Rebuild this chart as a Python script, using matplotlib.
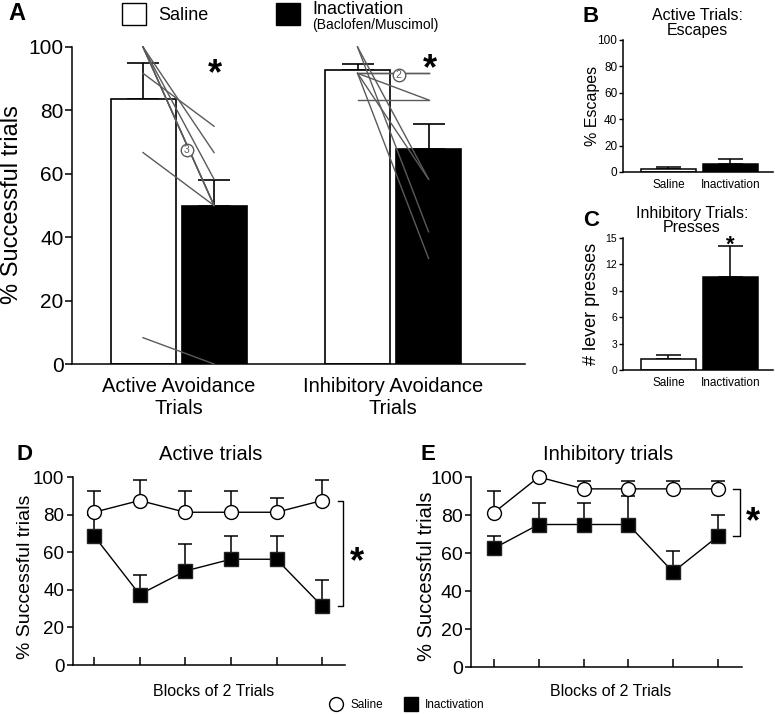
import matplotlib
matplotlib.use('Agg')
import matplotlib.pyplot as plt
import numpy as np
from matplotlib.lines import Line2D
from matplotlib.patches import Rectangle

plt.rcParams['font.family'] = ['Liberation Sans', 'DejaVu Sans']

# ---------------- data ----------------
groups_A = ['Active Avoidance\nTrials', 'Inhibitory Avoidance\nTrials']
saline_A = [83.5, 92.7]
saline_A_err = [11.4, 1.9]
inact_A = [50.0, 67.8]
inact_A_err = [8.0, 8.0]

active_saline_ind = [100, 100, 100, 100, 100, 91.7, 66.7, 8.3]
active_inact_ind = [66.7, 58.3, 50, 50, 50, 75, 50, 0]
inhib_saline_ind = [91.7, 91.7, 91.7, 83.3, 91.7, 100, 100, 91.7]
inhib_inact_ind = [91.7, 91.7, 83.3, 83.3, 58.3, 58.3, 41.7, 33.3]

groups_BC = ['Saline', 'Inactivation']
escapes = [2.0, 6.3]
escapes_err = [2.0, 3.2]
presses = [1.25, 10.6]
presses_err = [0.4, 3.5]

blocks = [1, 2, 3, 4, 5, 6]
D_saline = [81.25, 87.5, 81.25, 81.25, 81.25, 87.5]
D_saline_err = [11.5, 11.0, 11.5, 11.5, 7.5, 11.0]
D_inact = [68.75, 37.5, 50, 56.25, 56.25, 31.25]
D_inact_err = [11.0, 10.5, 14.5, 12.5, 12.5, 14.0]
E_saline = [81.25, 100, 93.75, 93.75, 93.75, 93.75]
E_saline_err = [11.5, 0, 4.3, 4.3, 4.3, 4.3]
E_inact = [62.5, 75, 75, 75, 50, 68.75]
E_inact_err = [6.2, 11.5, 11.5, 14.8, 11.2, 11.3]

# ---------------- figure ----------------
W, H = 775, 714
fig = plt.figure(figsize=(W / 100, H / 100), dpi=100)


def ax_px(left, top, right, bottom):
    return fig.add_axes([left / W, 1 - bottom / H, (right - left) / W, (bottom - top) / H])


def ftext(x, y, s, **kw):
    return fig.text(x / W, 1 - y / H, s, **kw)


def style(ax):
    for s in ['top', 'right']:
        ax.spines[s].set_visible(False)
    for s in ['left', 'bottom']:
        ax.spines[s].set_linewidth(1.1)


LINE_GRAY = '#5a5a5a'

# ---------------- Panel A ----------------
axA = ax_px(72, 47, 525, 364)
style(axA)
xg = np.arange(len(groups_A))
off = 0.1655
bw = 0.303
axA.bar(xg - off, saline_A, bw, color='white', edgecolor='black', lw=1.2, zorder=2)
axA.bar(xg + off, inact_A, bw, color='black', edgecolor='black', lw=1.2, zorder=2)
axA.errorbar(xg - off, saline_A, yerr=[np.zeros(2), saline_A_err], fmt='none',
             ecolor='black', elinewidth=1.2, capsize=11.5, capthick=1.2, zorder=1)
axA.errorbar(xg + off, inact_A, yerr=[np.zeros(2), inact_A_err], fmt='none',
             ecolor='black', elinewidth=1.2, capsize=11.5, capthick=1.2, zorder=1)
for s, i in zip(active_saline_ind, active_inact_ind):
    axA.plot([xg[0] - off, xg[0] + off], [s, i], color=LINE_GRAY, lw=1, zorder=3, clip_on=False)
for s, i in zip(inhib_saline_ind, inhib_inact_ind):
    axA.plot([xg[1] - off, xg[1] + off], [s, i], color=LINE_GRAY, lw=1, zorder=3, clip_on=False)
for (cx, cy, lab) in [(0.039, 67.5, '3'), (1.026, 91.2, '2')]:
    axA.plot(cx, cy, 'o', ms=9, mfc='white', mec=LINE_GRAY, mew=1, zorder=4)
    axA.text(cx, cy, lab, ha='center', va='center', fontsize=7.5, color=LINE_GRAY, zorder=5)
for (cx, cy) in [(0.171, 93.7), (1.17, 95.3)]:
    axA.text(cx, cy - 2.4, '*', ha='center', va='center', fontsize=26, fontweight='bold')
axA.set_xlim(-0.4965, 1.615)
axA.set_ylim(0, 100)
axA.set_yticks([0, 20, 40, 60, 80, 100])
axA.tick_params(axis='y', direction='out', length=5, width=1.1, labelsize=15, pad=1)
axA.set_xticks(xg)
axA.set_xticklabels(groups_A)
axA.tick_params(axis='x', length=0, labelsize=14.5, pad=9)
ftext(12, 205, '% Successful trials', rotation=90, ha='center', va='center', fontsize=17)
ftext(17, 14, 'A', ha='center', va='center', fontsize=17, fontweight='bold')

# top legend
fig.add_artist(Rectangle((122 / W, 1 - 25 / H), 24 / W, 22 / H, transform=fig.transFigure,
                         facecolor='white', edgecolor='black', lw=1))
fig.add_artist(Rectangle((276 / W, 1 - 25 / H), 24 / W, 22 / H, transform=fig.transFigure,
                         facecolor='black', edgecolor='black', lw=1))
ftext(158, 15, 'Saline', va='center', fontsize=13)
ftext(312, 9, 'Inactivation', va='center', fontsize=13)
ftext(312, 25, '(Baclofen/Muscimol)', va='center', fontsize=10)

# ---------------- Panels B and C ----------------
def small_bar(ax, vals, errs, ylim, yticks, tlsize, cap):
    style(ax)
    x = np.arange(len(groups_BC))
    ax.bar(x, vals, 0.887, color=['white', 'black'], edgecolor='black', lw=1.1, zorder=2)
    ax.errorbar(x, vals, yerr=[np.zeros(len(vals)), errs], fmt='none', ecolor='black',
                elinewidth=1.1, capsize=cap, capthick=1.1, zorder=1)
    ax.set_xlim(-0.736, 1.688)
    ax.set_ylim(*ylim)
    ax.set_yticks(yticks)
    ax.set_xticks(x)
    ax.set_xticklabels(groups_BC)
    ax.tick_params(axis='y', direction='out', length=3, width=1, labelsize=tlsize, pad=1)
    ax.tick_params(axis='x', length=0, labelsize=8.5, pad=5)


axB = ax_px(622.7, 40, 773, 172)
small_bar(axB, escapes, escapes_err, (0, 100), [0, 20, 40, 60, 80, 100], 8.5, 9)
ftext(592, 106, '% Escapes', rotation=90, ha='center', va='center', fontsize=11.5)
ftext(697, 15, 'Active Trials:', ha='center', va='center', fontsize=11.5)
ftext(697, 31, 'Escapes', ha='center', va='center', fontsize=11.5)
ftext(591, 16, 'B', ha='center', va='center', fontsize=16, fontweight='bold')

axC = ax_px(622.7, 238, 773, 370)
small_bar(axC, presses, presses_err, (0, 15), [0, 3, 6, 9, 12, 15], 7.5, 9)
axC.text(1, 14.8 - 0.6, '*', ha='center', va='center', fontsize=16, fontweight='bold')
ftext(592, 304, '# lever presses', rotation=90, ha='center', va='center', fontsize=13)
ftext(692, 213, 'Inhibitory Trials:', ha='center', va='center', fontsize=11.5)
ftext(692, 228, 'Presses', ha='center', va='center', fontsize=11.5)
ftext(591, 220, 'C', ha='center', va='center', fontsize=16, fontweight='bold')


# ---------------- Panels D and E ----------------
def line_panel(ax, sal, sal_err, ina, ina_err, xlim, tl):
    style(ax)
    ax.errorbar(blocks, ina, yerr=[np.zeros(6), ina_err], fmt='none', ecolor='black',
                elinewidth=1.1, capsize=5, capthick=1.1, zorder=2)
    ax.errorbar(blocks, sal, yerr=[np.zeros(6), sal_err], fmt='none', ecolor='black',
                elinewidth=1.1, capsize=5, capthick=1.1, zorder=2)
    ax.plot(blocks, ina, '-', color='black', lw=1, marker='s', ms=9.5, mfc='black',
            mec='#222222', mew=1, zorder=3, clip_on=False)
    ax.plot(blocks, sal, '-', color='black', lw=1, marker='o', ms=10, mfc='white',
            mec='black', mew=1, zorder=4, clip_on=False)
    ax.set_xlim(*xlim)
    ax.set_ylim(0, 100)
    ax.set_yticks([0, 20, 40, 60, 80, 100])
    ax.set_xticks(blocks)
    ax.set_xticklabels([])
    ax.tick_params(axis='x', direction='in', length=6, width=1.1)
    ax.tick_params(axis='y', direction='out', length=4, width=1.1, labelsize=tl, pad=2)


axD = ax_px(72.7, 477, 345, 665)
line_panel(axD, D_saline, D_saline_err, D_inact, D_inact_err, (0.533, 6.50), 13.5)
axD.plot([6.357, 6.467, 6.467, 6.357], [87.5, 87.5, 31.25, 31.25], color='black', lw=1,
         clip_on=False)
axD.text(6.77, 59.6 - 5, '*', ha='center', va='center', fontsize=26, fontweight='bold',
         clip_on=False)
ftext(26, 577, '% Successful trials', rotation=90, ha='center', va='center', fontsize=14)
ftext(211, 454, 'Active trials', ha='center', va='center', fontsize=14.5)
ftext(214, 692, 'Blocks of 2 Trials', ha='center', va='center', fontsize=11.5)
ftext(25, 455, 'D', ha='center', va='center', fontsize=16, fontweight='bold')

axE = ax_px(471, 477, 742, 667)
line_panel(axE, E_saline, E_saline_err, E_inact, E_inact_err, (0.487, 6.54), 14)
axE.plot([6.34, 6.49, 6.49, 6.34], [93.75, 93.75, 68.75, 68.75], color='black', lw=1,
         clip_on=False)
axE.text(6.79, 80 - 4.2, '*', ha='center', va='center', fontsize=26, fontweight='bold',
         clip_on=False)
ftext(426, 576, '% Successful trials', rotation=90, ha='center', va='center', fontsize=14.5)
ftext(608, 454, 'Inhibitory trials', ha='center', va='center', fontsize=14.5)
ftext(611, 692, 'Blocks of 2 Trials', ha='center', va='center', fontsize=11.5)
ftext(428, 455, 'E', ha='center', va='center', fontsize=16, fontweight='bold')

# bottom legend
handles = [Line2D([], [], ls='none', marker='o', ms=10, mfc='white', mec='black', mew=1),
           Line2D([], [], ls='none', marker='s', ms=10, mfc='black', mec='black', mew=1)]
fig.legend(handles, groups_BC, loc='center', bbox_to_anchor=(407 / W, 1 - 705 / H), ncol=2,
           frameon=False, fontsize=8.5, handletextpad=0.6, columnspacing=1.8,
           borderpad=0, handlelength=1.2)

fig.savefig('out.png', dpi=100)
